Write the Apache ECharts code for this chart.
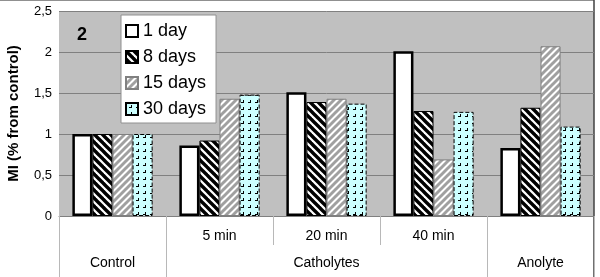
<!DOCTYPE html>
<html>
<head>
<meta charset="utf-8">
<script src="https://cdn.jsdelivr.net/npm/echarts@6/dist/echarts.min.js"></script>
<style>
  html, body { margin: 0; padding: 0; background: #fff; }
  #chart { width: 600px; height: 277px; }
</style>
</head>
<body>
<div id="chart"></div>
<script>
// categories (first row of the x axis) and their groups (second row)
var categories = ['Control', '5 min', '20 min', '40 min', 'Anolyte'];
var subLabels = ['', '5 min', '20 min', '40 min', ''];
var groupOf = ['Control', 'Catholytes', 'Catholytes', 'Catholytes', 'Anolyte'];
var groupLabels = ['Control', '', 'Catholytes', '', 'Anolyte'];

// MI values
var day1 = [1.00, 0.86, 1.51, 2.01, 0.83];
var days8 = [1.00, 0.92, 1.39, 1.28, 1.32];
var days15 = [1.00, 1.43, 1.43, 0.69, 2.07];
var days30 = [1.00, 1.48, 1.37, 1.27, 1.09];

var yTickLabels = ['0', '0,5', '1', '1,5', '2', '2,5'];

var FONT = '"Liberation Sans", Arial, sans-serif';

// hatch patterns
function stripes(size, color, back, dir) {
    var c = document.createElement('canvas');
    c.width = size; c.height = size;
    var ctx = c.getContext('2d');
    ctx.fillStyle = back;
    ctx.fillRect(0, 0, size, size);
    ctx.strokeStyle = color;
    ctx.lineWidth = size * 0.42;
    for (var k = -1; k <= 1; k++) {
        ctx.beginPath();
        if (dir > 0) {
            ctx.moveTo(k * size - 2, -2);
            ctx.lineTo(k * size + size + 2, size + 2);
        } else {
            ctx.moveTo(k * size - 2, size + 2);
            ctx.lineTo(k * size + size + 2, -2);
        }
        ctx.stroke();
    }
    return { image: c, repeat: 'repeat' };
}

function dots() {
    var c = document.createElement('canvas');
    c.width = 7; c.height = 7;
    var ctx = c.getContext('2d');
    ctx.fillStyle = '#ccffff';
    ctx.fillRect(0, 0, 7, 7);
    ctx.fillStyle = '#000';
    ctx.fillRect(5, 2, 1, 3);
    ctx.fillRect(3, 4, 3, 1);
    return { image: c, repeat: 'repeat' };
}

var chart = echarts.init(document.getElementById('chart'));

var option = {
    animation: false,
    title: {
        text: '2',
        left: 72,
        top: 21,
        textStyle: { fontFamily: FONT, fontSize: 18, fontWeight: 'bold', color: '#000' }
    },
    legend: {
        orient: 'vertical',
        left: 121,
        top: 15,
        backgroundColor: '#fff',
        borderColor: '#909090',
        borderWidth: 1,
        borderRadius: 0,
        padding: [7, 10, 5, 4],
        itemWidth: 12,
        itemHeight: 12,
        itemGap: 8,
        icon: 'rect',
        textStyle: { fontFamily: FONT, fontSize: 18, color: '#000' },
        data: ['1 day', '8 days', '15 days', '30 days']
    },
    grid: {
        left: 59,
        right: 6,
        top: 11,
        bottom: 61,
        containLabel: false,
        outerBoundsMode: 'none',
        show: true,
        backgroundColor: '#c0c0c0',
        borderWidth: 0
    },
    xAxis: [{
        type: 'category',
        data: categories,
        axisLine: { lineStyle: { color: '#808080', width: 1 } },
        axisTick: { show: true, length: 29, interval: 0, lineStyle: { color: '#b8b8b8', width: 1 } },
        axisLabel: {
            interval: 0,
            margin: 13,
            fontFamily: FONT,
            fontSize: 14,
            color: '#000',
            formatter: function (v, i) { return subLabels[i]; }
        }
    }, {
        type: 'category',
        data: categories,
        position: 'bottom',
        axisLine: { show: false },
        axisTick: {
            show: true,
            length: 61,
            interval: function (i) { return i === 0 || groupOf[i] !== groupOf[i - 1]; },
            lineStyle: { color: '#b8b8b8', width: 1 }
        },
        axisLabel: {
            interval: function (i) { return groupLabels[i] !== ''; },
            margin: 40,
            fontFamily: FONT,
            fontSize: 14,
            color: '#000',
            formatter: function (v, i) { return groupLabels[i]; }
        }
    }],
    yAxis: {
        type: 'value',
        min: 0,
        max: 2.5,
        interval: 0.5,
        name: 'MI (% from control)',
        nameLocation: 'middle',
        nameGap: 38,
        nameTextStyle: { fontFamily: FONT, fontSize: 15, fontWeight: 'bold', color: '#000' },
        axisLine: { show: false },
        axisTick: { show: false },
        splitLine: { lineStyle: { color: '#808080', width: 1 } },
        axisLabel: {
            margin: 7,
            fontFamily: FONT,
            fontSize: 13,
            color: '#000',
            formatter: function (v) { return yTickLabels[Math.round(v / 0.5)]; }
        }
    },
    graphic: [{
        type: 'line',
        shape: { x1: 0, y1: 0.5, x2: 594, y2: 0.5 },
        style: { stroke: '#909090', lineWidth: 1 },
        silent: true
    }, {
        type: 'line',
        shape: { x1: 594, y1: 0, x2: 594, y2: 277 },
        style: { stroke: '#404040', lineWidth: 1.5 },
        silent: true
    }],
    series: [{
        name: '1 day',
        type: 'bar',
        data: day1,
        barGap: '0%',
        barCategoryGap: '25%',
        itemStyle: { color: '#fff', borderColor: '#000', borderWidth: 2.5 }
    }, {
        name: '8 days',
        type: 'bar',
        data: days8,
        itemStyle: { color: stripes(8, '#000', '#fff', 1), borderColor: '#000', borderWidth: 1 }
    }, {
        name: '15 days',
        type: 'bar',
        data: days15,
        itemStyle: { color: stripes(7, '#a0a0a0', '#fff', -1), borderColor: '#808080', borderWidth: 1 }
    }, {
        name: '30 days',
        type: 'bar',
        data: days30,
        itemStyle: { color: dots(), borderColor: '#000', borderWidth: 1, borderType: 'dashed' }
    }]
};

chart.setOption(option);
window.addEventListener('resize', function () {
    chart.resize();
});
</script>
</body>
</html>
